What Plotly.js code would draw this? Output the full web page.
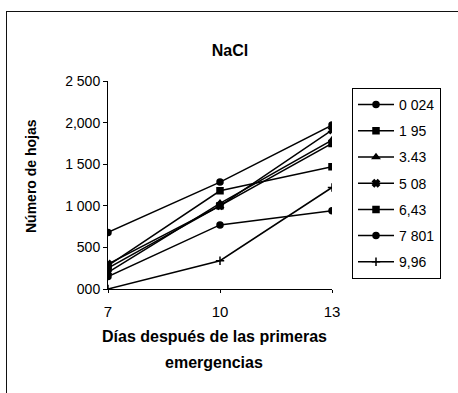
<!DOCTYPE html>
<html>
<head>
<meta charset="utf-8">
<script src="https://cdn.plot.ly/plotly-3.0.1.min.js"></script>
<style>
  body { margin: 0; background: #fff; }
  #frame { position: absolute; left: 6px; top: 11px; width: 451px; height: 390px; border: 1px solid #111; border-bottom: none; border-right: none; }
  #chart { position: absolute; left: 0; top: 0; width: 458px; height: 393px; }
</style>
</head>
<body>
<div id="frame"></div>
<div id="chart"></div>
<script>
// dias despues de las primeras emergencias
var dias = [7, 10, 13];

// concentraciones de NaCl (etiquetas de la leyenda)
var concentraciones = ["0 024", "1 95", "3.43", "5 08", "6,43", "7 801", "9,96"];
var simbolos = ["circle", "square", "triangle-up", "x", "square", "circle", "cross-thin"];

// numero de hojas por serie
var hojas0024 = [680, 1285, 1970];
var hojas195 = [250, 1000, 1750];
var hojas343 = [200, 1030, 1790];
var hojas508 = [300, 1000, 1910];
var hojas643 = [280, 1180, 1470];
var hojas7801 = [150, 770, 940];
var hojas996 = [0, 340, 1220];
var series = [hojas0024, hojas195, hojas343, hojas508, hojas643, hojas7801, hojas996];

var yTicks = [0, 500, 1000, 1500, 2000, 2500];
var yTickText = ["000", "500", "1 000", "1 500", "2,000", "2 500"];

var data = series.map((vals, i) => ({
  x: dias,
  y: vals,
  name: concentraciones[i],
  legendgroup: "g" + i,
  type: "scatter",
  mode: "lines+markers",
  line: { color: "#000", width: 1.5 },
  marker: { symbol: simbolos[i], size: 6, color: "#000", line: { color: "#000", width: 1.5 } }
}));

var layout = {
  width: 458,
  height: 393,
  margin: { l: 108, r: 126, t: 81, b: 104 },
  paper_bgcolor: "rgba(0,0,0,0)",
  plot_bgcolor: "rgba(0,0,0,0)",
  font: { family: "Liberation Sans, Arial, sans-serif", size: 12, color: "#000" },
  title: {
    text: "<b>NaCl</b>",
    font: { size: 16 },
    x: 230 / 458, xref: "container",
    y: 1 - 50 / 393, yref: "container", yanchor: "middle"
  },
  xaxis: {
    range: [7, 13],
    tickvals: dias,
    ticks: "outside", ticklen: 3, tickcolor: "#000",
    ticklabelstandoff: 6,
    showgrid: false, zeroline: false,
    showline: true, linecolor: "#000", linewidth: 1,
    tickfont: { size: 15 }
  },
  yaxis: {
    range: [0, 2500],
    tickvals: yTicks,
    ticktext: yTickText,
    ticks: "outside", ticklen: 4, tickcolor: "#000",
    showgrid: false, zeroline: false,
    showline: true, linecolor: "#000", linewidth: 1,
    tickfont: { size: 14 }
  },
  showlegend: true,
  legend: {
    x: (352 - 108) / 224, xanchor: "left",
    y: (289 - 88) / 208, yanchor: "top",
    bordercolor: "#000", borderwidth: 1,
    bgcolor: "#fff",
    font: { size: 14 },
    tracegroupgap: 5,
    itemwidth: 36
  },
  annotations: [
    { text: "<b>Número de hojas</b>", textangle: -90, xref: "paper", x: (31 - 108) / 224, xanchor: "center", yref: "paper", y: (289 - 176) / 208, yanchor: "middle", showarrow: false, font: { size: 14 } },
    { text: "<b>Días después de las primeras</b>", xref: "paper", x: (214 - 108) / 224, yref: "paper", y: -(336 - 289) / 208, yanchor: "middle", showarrow: false, font: { size: 16 } },
    { text: "<b>emergencias</b>", xref: "paper", x: (214 - 108) / 224, yref: "paper", y: -(362 - 289) / 208, yanchor: "middle", showarrow: false, font: { size: 16 } }
  ]
};

Plotly.newPlot("chart", data, layout, { displayModeBar: false, staticPlot: true });
</script>
</body>
</html>
